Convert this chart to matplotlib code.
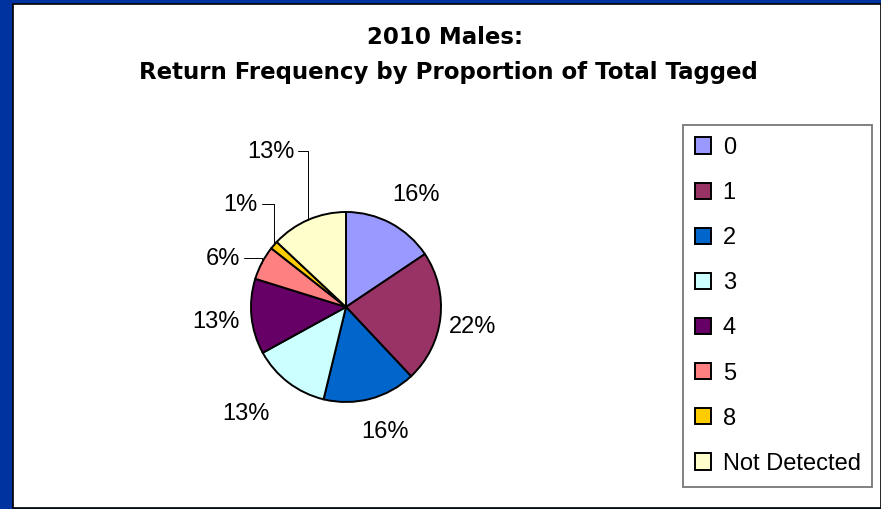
import numpy as np
import matplotlib
matplotlib.use("Agg")
import matplotlib.pyplot as plt
from matplotlib.patches import Rectangle

plt.rcParams['font.family'] = ['Liberation Sans', 'DejaVu Sans']

# data
categories = ["0", "1", "2", "3", "4", "5", "8", "Not Detected"]
shares = [15.6, 22.4, 15.8, 13.2, 12.8, 5.8, 1.4, 13.0]
colors = ["#9999FF", "#993366", "#0066CC", "#CCFFFF",
          "#660066", "#FF8080", "#FFCC00", "#FFFFCC"]
title_lines = ["2010 Males:", "Return Frequency by Proportion of Total Tagged"]

W, H = 881, 509
fig = plt.figure(figsize=(W / 100, H / 100), dpi=100)
fig.patch.set_facecolor("#0033A0")

# white chart panel
panel = Rectangle((12.5 / W, 1.0 / H), (W - 12.5) / W, (H - 4.5) / H,
                  transform=fig.transFigure, facecolor="white",
                  edgecolor="black", linewidth=1.2, zorder=-5)
fig.patches.append(panel)

fig.text(445 / W, 1 - 38 / H, title_lines[0], ha="center", va="center",
         fontsize=16.5, fontweight="bold", family="DejaVu Sans")
fig.text(448 / W, 1 - 73 / H, title_lines[1], ha="center", va="center",
         fontsize=16.5, fontweight="bold", family="DejaVu Sans")

# pie axes: radius ~95 px, centred at (346, 307)
R = 95
cx, cy = 346, 307
ax = fig.add_axes([(cx - 2 * R) / W, (H - cy - 2 * R) / H, 4 * R / W, 4 * R / H])
ax.set_zorder(2)

wedges, _ = ax.pie(shares, colors=colors, startangle=90, counterclock=False,
                   wedgeprops=dict(edgecolor="black", linewidth=1.4))
ax.set_xlim(-2, 2)
ax.set_ylim(-2, 2)
ax.set_aspect("equal")
ax.axis("off")

# label placement: distance (pie radii), angle nudge (deg), leader line
dist = [1.405, 1.345, 1.36, 1.53, 1.38, 1.40, 1.56, 1.83]
nudge = [-3.3, -1.6, 3.0, -6.3, 0.0, 5.7, -3.9, 2.3]
leader = [False, False, False, False, False, True, True, True]
total = sum(shares)
for i, w in enumerate(wedges):
    mid = (w.theta1 + w.theta2) / 2
    ang = np.deg2rad(mid + nudge[i])
    lab = "%d%%" % round(shares[i] / total * 100)
    tx, ty = dist[i] * np.cos(ang), dist[i] * np.sin(ang) - 0.02
    if leader[i]:
        ex, ey = np.cos(np.deg2rad(mid)), np.sin(np.deg2rad(mid))
        ax.annotate(lab, xy=(ex, ey), xytext=(tx, ty), ha="center", va="center",
                    fontsize=17,
                    arrowprops=dict(arrowstyle="-", color="black", lw=0.7,
                                    relpos=(1, 0.55), shrinkA=1, shrinkB=0,
                                    connectionstyle="angle,angleA=0,angleB=90,rad=0"))
    else:
        ax.text(tx, ty, lab, ha="center", va="center", fontsize=17)

leg = fig.legend(wedges, categories, loc="upper left",
                 bbox_to_anchor=(683 / W, 1 - 125 / H),
                 fontsize=17, frameon=True, fancybox=False,
                 handlelength=0.68, handleheight=0.68, handletextpad=0.5,
                 labelspacing=0.98, borderpad=0.5, borderaxespad=0)
leg.get_frame().set_edgecolor("#555555")
leg.get_frame().set_linewidth(1.3)

fig.savefig("out.png", dpi=100, facecolor=fig.get_facecolor())
